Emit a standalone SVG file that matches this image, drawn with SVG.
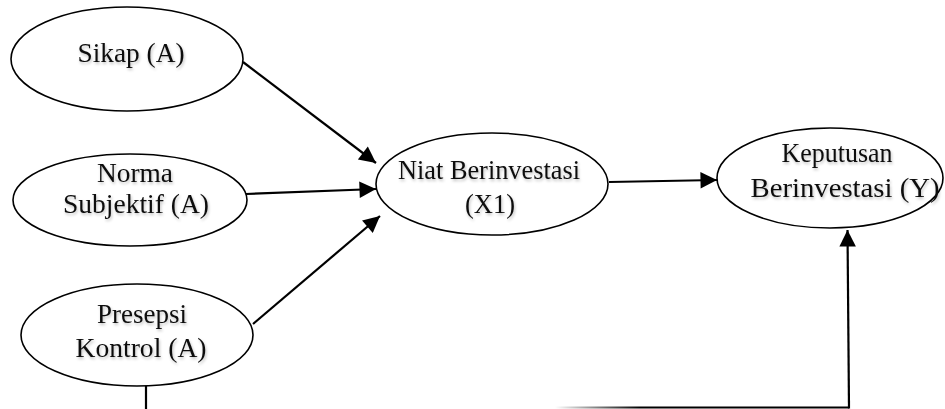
<svg xmlns="http://www.w3.org/2000/svg" width="945" height="409" viewBox="0 0 945 409">
<style>
.node ellipse{fill:#fff;stroke:#000;stroke-width:1.6}
.node text{font-family:"Liberation Serif","Times New Roman",serif;font-size:27px;fill:#111;text-anchor:middle;filter:url(#sh)}
.conn line{stroke:#000;stroke-width:2.2;fill:none}
</style>
<defs>
<marker id="ah" viewBox="0 0 10 10" refX="10" refY="5" markerWidth="8.5" markerHeight="7.5" markerUnits="strokeWidth" orient="auto">
<path d="M0,0 L10,5 L0,10 z" fill="#000"/>
</marker>
<linearGradient id="fade" gradientUnits="userSpaceOnUse" x1="555" y1="0" x2="640" y2="0">
<stop offset="0" stop-color="#000" stop-opacity="0"/>
<stop offset="1" stop-color="#000" stop-opacity="1"/>
</linearGradient>
<filter id="sh" x="-10%" y="-30%" width="120%" height="160%">
<feGaussianBlur in="SourceAlpha" stdDeviation="1.5"/>
<feOffset dx="1" dy="2" result="b"/>
<feComponentTransfer><feFuncA type="linear" slope="0.25"/></feComponentTransfer>
<feMerge><feMergeNode/><feMergeNode in="SourceGraphic"/></feMerge>
</filter>
</defs>
<rect width="945" height="409" fill="#fff"/>
<g class="conn" id="connectors">
<line x1="243" y1="62" x2="376" y2="163" marker-end="url(#ah)"/>
<line x1="246" y1="194" x2="376" y2="189" marker-end="url(#ah)"/>
<line x1="253" y1="324" x2="380" y2="216" marker-end="url(#ah)"/>
<line x1="609" y1="182" x2="717" y2="180" marker-end="url(#ah)"/>
<line x1="146" y1="385" x2="146" y2="409"/>
<line x1="555" y1="407.5" x2="849" y2="407.5" style="stroke:url(#fade)"/>
<line x1="849" y1="408.6" x2="847.5" y2="230" marker-end="url(#ah)"/>
</g>
<g class="node" id="sikap">
<ellipse cx="127" cy="59" rx="116" ry="52"/>
<text x="131" y="62" textLength="107" lengthAdjust="spacingAndGlyphs">Sikap (A)</text>
</g>
<g class="node" id="norma">
<ellipse cx="130" cy="200" rx="117" ry="46"/>
<text x="135" y="182" textLength="76" lengthAdjust="spacingAndGlyphs">Norma</text>
<text x="136" y="213" textLength="146" lengthAdjust="spacingAndGlyphs">Subjektif (A)</text>
</g>
<g class="node" id="presepsi">
<ellipse cx="137" cy="335" rx="116" ry="51"/>
<text x="142" y="323" textLength="90" lengthAdjust="spacingAndGlyphs">Presepsi</text>
<text x="141" y="357" textLength="131" lengthAdjust="spacingAndGlyphs">Kontrol (A)</text>
</g>
<g class="node" id="niat">
<ellipse cx="492" cy="184" rx="116" ry="51"/>
<text x="489" y="179" textLength="182" lengthAdjust="spacingAndGlyphs">Niat Berinvestasi</text>
<text x="490" y="213" textLength="50" lengthAdjust="spacingAndGlyphs">(X1)</text>
</g>
<g class="node" id="keputusan">
<ellipse cx="830" cy="178" rx="113" ry="50"/>
<text x="837" y="162" textLength="111" lengthAdjust="spacingAndGlyphs">Keputusan</text>
<text x="845" y="197" textLength="189" lengthAdjust="spacingAndGlyphs">Berinvestasi (Y)</text>
</g>
</svg>
